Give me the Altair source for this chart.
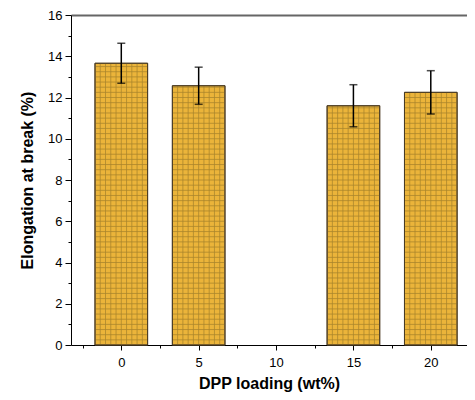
import altair as alt
import pandas as pd

loading = [0, 5, 15, 20]
elong = [13.66, 12.57, 11.6, 12.25]
err = [0.97, 0.9, 1.02, 1.05]

x_major = [0, 5, 10, 15, 20]
x_minor = [-2.5, 2.5, 7.5, 12.5, 17.5]
y_major = [0, 2, 4, 6, 8, 10, 12, 14, 16]
y_minor = [1, 3, 5, 7, 9, 11, 13, 15]

HALF = 1.7
df = pd.DataFrame({"x": loading, "v": elong, "e": err})
df["x0"] = df["x"] - HALF
df["x1"] = df["x"] + HALF
df["lo"] = df["v"] - df["e"]
df["hi"] = df["v"] + df["e"]

# hatch rows derived from the bars
hrows, vrows = [], []
for x, v in zip(loading, elong):
    k = 1
    while k * 0.25 < v - 0.05:
        hrows.append({"x0": x - HALF, "x1": x + HALF, "y": k * 0.25})
        k += 1
    for j in range(1, 10):
        vrows.append({"x": x - HALF + j * 2 * HALF / 10, "v": v})
hdf = pd.DataFrame(hrows)
vdf = pd.DataFrame(vrows)

FONT = "Liberation Sans"
xs = alt.Scale(domain=[-3.25, 22.34], nice=False, zero=False)
ys = alt.Scale(domain=[0, 16], nice=False)

x_main = alt.Axis(values=x_major, title="DPP loading (wt%)", grid=False,
                  domainColor="black", tickColor="black", tickSize=5,
                  labelFontSize=13, labelFont=FONT, labelColor="black", labelPadding=6,
                  titleFont=FONT, titleFontSize=16, titleFontWeight="bold",
                  titleColor="black", titlePadding=6, orient="bottom")
y_main = alt.Axis(values=y_major, title="Elongation at break (%)", grid=False,
                  domainColor="black", tickColor="black", tickSize=6,
                  labelFontSize=13, labelFont=FONT, labelColor="black", labelPadding=3,
                  titleFont=FONT, titleFontSize=16, titleFontWeight="bold",
                  titleColor="black", titlePadding=12, orient="left")

bars = alt.Chart(df).mark_rect(fill="#EBB43A", stroke="#5b4a30", strokeWidth=1).encode(
    x=alt.X("x0:Q", scale=xs, axis=x_main),
    x2="x1:Q",
    y=alt.Y("v:Q", scale=ys, axis=y_main),
    y2=alt.datum(0),
)

HC = "#A8842C"
hlines = alt.Chart(hdf).mark_rule(color=HC, strokeWidth=1, opacity=0.75).encode(
    x=alt.X("x0:Q", scale=xs, axis=None), x2="x1:Q",
    y=alt.Y("y:Q", scale=ys, axis=None),
)
vlines = alt.Chart(vdf).mark_rule(color=HC, strokeWidth=1, opacity=0.75).encode(
    x=alt.X("x:Q", scale=xs, axis=None),
    y=alt.Y("v:Q", scale=ys, axis=None), y2=alt.datum(0),
)
outline = alt.Chart(df).mark_rect(fill=None, stroke="#4a3c24", strokeWidth=1).encode(
    x=alt.X("x0:Q", scale=xs, axis=None), x2="x1:Q",
    y=alt.Y("v:Q", scale=ys, axis=None), y2=alt.datum(0),
)

ebar = alt.Chart(df).mark_rule(color="black", strokeWidth=1.5).encode(
    x=alt.X("x:Q", scale=xs, axis=None),
    y=alt.Y("lo:Q", scale=ys, axis=None), y2="hi:Q",
)
cap_hi = alt.Chart(df).mark_tick(color="black", thickness=1.5, size=8, orient="horizontal").encode(
    x=alt.X("x:Q", scale=xs, axis=None),
    y=alt.Y("hi:Q", scale=ys, axis=None),
)
cap_lo = alt.Chart(df).mark_tick(color="black", thickness=1.5, size=8, orient="horizontal").encode(
    x=alt.X("x:Q", scale=xs, axis=None),
    y=alt.Y("lo:Q", scale=ys, axis=None),
)

minor = alt.Chart(df).mark_point(opacity=0).encode(
    x=alt.X("x:Q", scale=xs, axis=alt.Axis(values=x_minor, labels=False, title=None, grid=False,
                                           domain=False, tickColor="black", tickSize=3, orient="bottom")),
    y=alt.Y("v:Q", scale=ys, axis=alt.Axis(values=y_minor, labels=False, title=None, grid=False,
                                           domain=False, tickColor="black", tickSize=3, orient="left")),
)
top = alt.Chart(df).mark_point(opacity=0).encode(
    x=alt.X("x:Q", scale=xs, axis=alt.Axis(labels=False, ticks=False, title=None, grid=False,
                                           domainColor="#666666", domainWidth=2, orient="top")),
)

chart = alt.layer(bars, hlines, vlines, outline, ebar, cap_hi, cap_lo, minor, top).resolve_axis(
    x="independent", y="independent"
).properties(
    width=396, height=330,
    autosize=alt.AutoSizeParams(type="none"),
    padding={"left": 63, "top": 7, "right": 0, "bottom": 47},
).configure_view(stroke=None)

chart.save("out.html", embed_options={"renderer": "svg", "actions": False})
